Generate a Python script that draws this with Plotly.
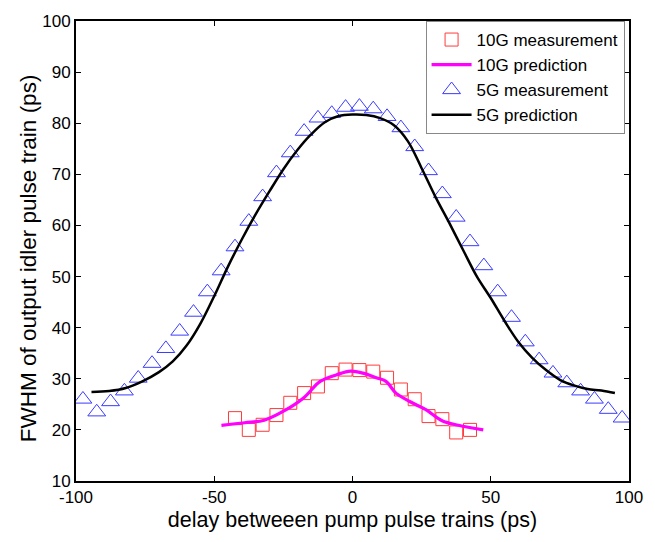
import plotly.graph_objects as go

# 5G measurement (triangles)
x5_meas = [-97.5, -92.5, -87.5, -82.5, -77.5, -72.5, -67.5, -62.5, -57.5, -52.5,
           -47.5, -42.5, -37.5, -32.5, -27.5, -22.5, -17.5, -12.5, -7.5, -2.5,
           2.5, 7.5, 12.5, 17.5, 22.5, 27.5, 32.5, 37.5, 42.5, 47.5,
           52.5, 57.5, 62.5, 67.5, 72.5, 77.5, 82.5, 87.5, 92.5, 97.5]
y5_meas = [26.0, 23.5, 25.5, 27.6, 30.1, 33.0, 35.9, 39.3, 43.0, 47.0,
           51.1, 55.8, 60.8, 65.6, 70.3, 74.2, 78.4, 81.0, 81.9, 83.1,
           83.3, 82.8, 81.3, 79.1, 75.4, 70.7, 66.2, 61.6, 56.8, 52.1,
           47.0, 42.0, 37.2, 33.7, 31.1, 29.2, 27.6, 26.0, 24.0, 22.3]

# 5G prediction (black line)
x5_pred = [-94.4, -88, -82, -76, -70, -65, -60, -55, -50, -45, -40, -35, -30, -25,
           -20, -15, -10, -5, 0, 5, 10, 15, 20, 25, 30, 35, 40, 45, 50, 55, 60,
           65, 70, 75, 80, 85, 90, 94.9]
y5_pred = [27.4, 27.6, 28.2, 29.5, 31.3, 33.4, 36.5, 40.8, 46.2, 52.0, 57.3, 62.2,
           66.7, 71.0, 74.7, 77.8, 80.2, 81.4, 81.7, 81.6, 81.0, 79.6, 76.5, 71.2,
           65.6, 60.5, 55.2, 50.0, 45.8, 41.3, 37.2, 34.1, 31.7, 29.8, 28.7, 28.0,
           27.7, 27.2]

# 10G measurement (squares)
x10_meas = [-42.5, -37.5, -32.5, -27.5, -22.5, -17.5, -12.5, -7.5, -2.5,
            2.5, 7.5, 12.5, 17.5, 22.5, 27.5, 32.5, 37.5, 42.5]
y10_meas = [22.3, 20.0, 21.0, 22.9, 25.3, 27.2, 28.5, 31.1, 31.8,
            31.7, 31.4, 30.2, 27.9, 26.0, 22.7, 22.1, 19.5, 20.0]

# 10G prediction (magenta line)
x10_pred = [-47.4, -39.0, -31.9, -24.8, -17.6, -11.7, -5.7, -0.7, 3.8, 8.6,
            12.1, 15.7, 20.5, 26.4, 32.4, 38.3, 47.3]
y10_pred = [20.9, 21.4, 21.9, 23.7, 26.3, 29.5, 30.8, 31.5, 31.1, 30.2,
            29.5, 27.2, 25.6, 24.0, 21.8, 20.9, 20.0]

x_ticks = [-100, -50, 0, 50, 100]
x_ticktext = ["-100", "-50", "0", "50", "100"]
y_ticks = [10, 20, 30, 40, 50, 60, 70, 80, 90, 100]

FONT = "Liberation Sans, Arial, sans-serif"

fig = go.Figure()
fig.add_trace(go.Scatter(x=x10_meas, y=y10_meas, mode="markers", name="10G measurement",
                         marker=dict(symbol="square-open", size=13, color="#ff3b3b",
                                     line=dict(width=1))))
fig.add_trace(go.Scatter(x=x10_pred, y=y10_pred, mode="lines", name="10G prediction",
                         line=dict(color="#ff00ff", width=3.2, shape="spline")))
fig.add_trace(go.Scatter(x=x5_meas, y=y5_meas, mode="markers", name="5G measurement",
                         marker=dict(symbol="triangle-up-open", size=15.5, color="#3b3bff",
                                     line=dict(width=1))))
fig.add_trace(go.Scatter(x=x5_pred, y=y5_pred, mode="lines", name="5G prediction",
                         line=dict(color="black", width=2.5, shape="spline")))

axis_common = dict(showline=True, linecolor="black", linewidth=2, mirror="ticks",
                   ticks="inside", ticklen=5, tickcolor="black", showgrid=False,
                   zeroline=False, tickfont=dict(family=FONT, size=17, color="black"))

fig.update_layout(
    width=655, height=542,
    margin=dict(l=76, r=18, t=14, b=61),
    paper_bgcolor="white", plot_bgcolor="white",
    font=dict(family=FONT, color="black"),
    xaxis=dict(range=[-100, 100], tickvals=x_ticks, ticktext=x_ticktext,
               title=dict(text="delay betweeen pump pulse trains (ps)",
                          font=dict(family=FONT, size=21.5), standoff=6),
               **axis_common),
    yaxis=dict(range=[10, 100], tickvals=y_ticks, **axis_common),
    legend=dict(x=0.992, y=1.0, xanchor="right", yanchor="top",
                bgcolor="white", bordercolor="#888888", borderwidth=1,
                font=dict(family=FONT, size=17, color="black"),
                tracegroupgap=0, itemwidth=40),
    showlegend=True,
    annotations=[dict(text="FWHM of output idler pulse train (ps)", textangle=-90,
                      xref="paper", yref="paper", x=-0.087, y=0.484,
                      xanchor="center", yanchor="middle", showarrow=False,
                      font=dict(family=FONT, size=22.5, color="black"))],
)

fig.write_html("out.html")
